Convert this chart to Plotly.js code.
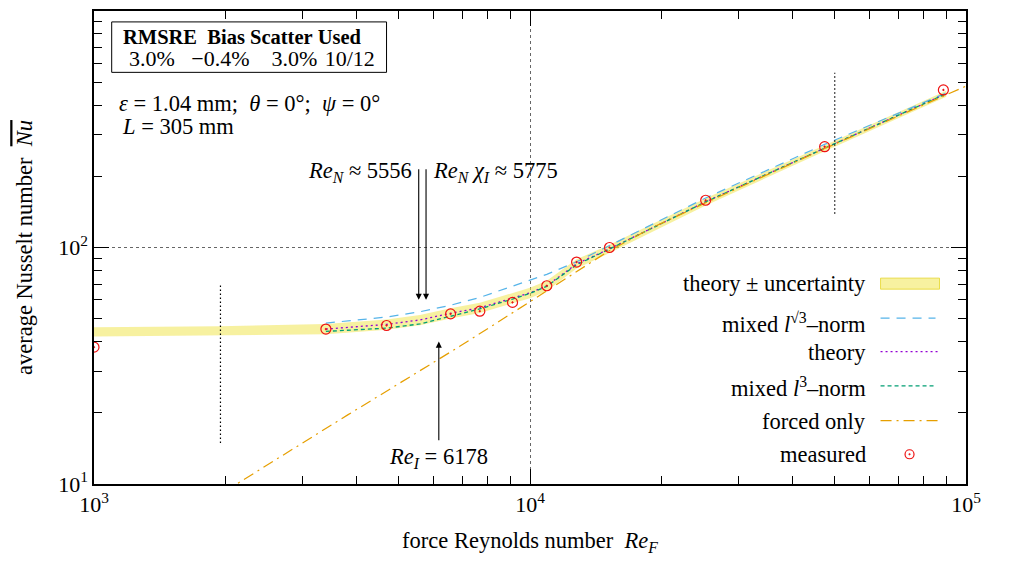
<!DOCTYPE html>
<html>
<head>
<meta charset="utf-8">
<script src="https://cdn.plot.ly/plotly-3.0.1.min.js"></script>
<style>
  html, body { margin: 0; padding: 0; background: #fff; }
  #chart { width: 1009px; height: 561px; }
</style>
</head>
<body>
<div id="chart"></div>
<script>
// Measured average Nusselt numbers
const reMeasured = [1000, 3403, 4688, 6574, 7672, 9118, 10927, 12790, 15218, 25290, 47400, 88740];
const nuMeasured = [37.9, 45.2, 46.8, 52.4, 53.8, 58.6, 68.9, 86.8, 100.0, 158.4, 266.8, 463.6];

// Theory with its relative uncertainty
const reTheory = [1000, 1945, 3403, 4688, 5591, 6574, 7672, 9118, 10000, 10927, 12790, 15218, 25290, 47400, 90100];
const nuTheory = [44.0, 44.4, 45.2, 47.3, 49.4, 52.7, 55.6, 61.1, 64.3, 68.9, 85.3, 98.7, 156.1, 263.0, 447.0];
const uncTheory = [0.045, 0.045, 0.05, 0.05, 0.05, 0.05, 0.05, 0.05, 0.05, 0.05, 0.045, 0.04, 0.035, 0.03, 0.03];

// Mixed-convection blends
const reMixed = [3403, 4688, 5591, 6574, 7672, 9118, 10000, 10927, 12790, 15218, 25290, 47400, 90100];
const nuMixedSqrt3 = [47.9, 50.8, 53.5, 57.0, 61.5, 68.5, 72.5, 77.0, 87.0, 102.0, 162.0, 273.0, 450.0];
const nuMixedL3 = [44.2, 45.6, 47.5, 51.3, 55.0, 60.5, 64.0, 68.5, 84.5, 98.5, 156.0, 263.0, 447.0];
// Theory line is drawn over the same span as the blends
const theoryLineStart = 3403;

// Forced convection only
const reForced = [1800, 2124, 3819, 6900, 10000, 12000, 15000, 19000, 25290, 47400, 100000, 110000];
const nuForced = [8.2, 10.0, 19.6, 38.2, 59.0, 73.5, 95.5, 121.0, 154.5, 262.0, 480.0, 520.0];

// Validity markers (vertical dotted segments)
const markerRe = [1950, 50000];
const markerNuLow = [14.9, 138.9];
const markerNuHigh = [70.2, 548.0];

// Characteristic Reynolds numbers
const reN = 5556, reNchi = 5775, reI = 6178;

// Fit statistics
const statHeader = ['RMSRE', 'Bias', 'Scatter', 'Used'];
const statValues = ['3.0%', '\u22120.4%', '3.0%', '10/12'];

const FONT = 'Liberation Serif, Times New Roman, serif';
const FS = 22.5;
const NBSP = '\u00A0';

const lg = Math.log10;

const traces = [];

// uncertainty band
const bandHi = nuTheory.map((v, i) => v * (1 + uncTheory[i]));
const bandLo = nuTheory.map((v, i) => v * (1 - uncTheory[i]));
traces.push({ x: reTheory, y: bandLo, mode: 'lines', line: { width: 0, color: 'rgba(0,0,0,0)' }, hoverinfo: 'skip', showlegend: false });
traces.push({ x: reTheory, y: bandHi, mode: 'lines', line: { width: 0, color: 'rgba(0,0,0,0)' }, fill: 'tonexty', fillcolor: 'rgba(240,228,66,0.5)', showlegend: false });

// blue mixed sqrt3
traces.push({ x: reMixed, y: nuMixedSqrt3, mode: 'lines', line: { color: '#56b4e9', width: 1.2, dash: '9px,7px' }, showlegend: false });
// theory line
const thX = [], thY = [];
reTheory.forEach((r, i) => { if (r >= theoryLineStart) { thX.push(r); thY.push(nuTheory[i]); } });
traces.push({ x: thX, y: thY, mode: 'lines', line: { color: '#9400d3', width: 1.3, dash: '2px,3px' }, showlegend: false });
// green mixed l3
traces.push({ x: reMixed, y: nuMixedL3, mode: 'lines', line: { color: '#009e73', width: 1.3, dash: '4px,3px' }, showlegend: false });
// forced only
traces.push({ x: reForced, y: nuForced, mode: 'lines', line: { color: '#e69f00', width: 1.2, dash: '11px,5px,2px,5px' }, showlegend: false });

// validity markers
markerRe.forEach((r, i) => {
  traces.push({ x: [r, r], y: [markerNuLow[i], markerNuHigh[i]], mode: 'lines', line: { color: '#000', width: 1.2, dash: '1.5px,2.5px' }, showlegend: false });
});

// measured
traces.push({ x: reMeasured, y: nuMeasured, mode: 'markers',
  marker: { symbol: 'circle-open-dot', size: 10, color: '#ee1111', line: { width: 1.2, color: '#ee1111' } }, showlegend: false });

// plot-area geometry in pixels (for key/paper placement)
const L = 94, R = 966.5, T = 11.4, B = 484;
const W = 1009, H = 561;
const px = x => (x - L) / (R - L);
const py = y => (B - y) / (B - T);

const annotations = [];
const shapes = [];

// Statistics box
shapes.push({ type: 'rect', xref: 'paper', yref: 'paper', x0: px(111.7), x1: px(386.7), y0: py(72.7), y1: py(22.3), line: { color: '#000', width: 1 }, fillcolor: '#fff' });
annotations.push({ xref: 'paper', yref: 'paper', x: px(121), y: py(37), xanchor: 'left', yanchor: 'middle', showarrow: false,
  text: '<b>' + statHeader[0] + NBSP + NBSP + statHeader.slice(1).join(NBSP) + '</b>', font: { family: FONT, size: 20.5, color: '#000' } });
annotations.push({ xref: 'paper', yref: 'paper', x: px(127), y: py(59), xanchor: 'left', yanchor: 'middle', showarrow: false,
  text: statValues[0] + NBSP + NBSP + NBSP + statValues[1] + NBSP + NBSP + NBSP + NBSP + statValues[2] + NBSP + '\u200A' + statValues[3], font: { family: FONT, size: 22, color: '#000' } });

annotations.push({ xref: 'paper', yref: 'paper', x: px(117), y: py(104), xanchor: 'left', yanchor: 'middle', showarrow: false,
  text: '<i>\u03b5</i> = 1.04 mm;' + NBSP + NBSP + '<i>\u03b8</i> = 0\u00b0;' + NBSP + NBSP + '<i>\u03c8</i> = 0\u00b0', font: { family: FONT, size: FS, color: '#000' } });
annotations.push({ xref: 'paper', yref: 'paper', x: px(120), y: py(127), xanchor: 'left', yanchor: 'middle', showarrow: false,
  text: '<i>L</i> = 305 mm', font: { family: FONT, size: FS, color: '#000' } });

// Characteristic Reynolds arrows
const arrowStyle = { showarrow: true, arrowhead: 2, arrowsize: 1.1, arrowwidth: 1.1, arrowcolor: '#000', text: '', axref: 'x', ayref: 'y', standoff: 0, startstandoff: 0 };
annotations.push(Object.assign({}, arrowStyle, { x: lg(reN), y: lg(60.1), ax: lg(reN), ay: lg(217.4) }));
annotations.push(Object.assign({}, arrowStyle, { x: lg(reNchi), y: lg(60.1), ax: lg(reNchi), ay: lg(217.4) }));
annotations.push(Object.assign({}, arrowStyle, { x: lg(reI), y: lg(40.0), ax: lg(reI), ay: lg(15.1) }));

annotations.push({ xref: 'x', yref: 'paper', x: lg(reN), xshift: -5, y: py(172), xanchor: 'right', yanchor: 'middle', showarrow: false,
  text: '<i>Re</i><sub><i>N</i></sub>' + NBSP + '\u2248 ' + reN, font: { family: FONT, size: FS, color: '#000' } });
annotations.push({ xref: 'x', yref: 'paper', x: lg(reNchi), xshift: 5, y: py(172), xanchor: 'left', yanchor: 'middle', showarrow: false,
  text: '<i>Re</i><sub><i>N</i></sub>' + NBSP + '<i>\u03c7</i><sub><i>I</i></sub>' + NBSP + '\u2248 ' + reNchi, font: { family: FONT, size: FS, color: '#000' } });
annotations.push({ xref: 'x', yref: 'paper', x: lg(reI), y: py(458), xanchor: 'center', yanchor: 'middle', showarrow: false,
  text: '<i>Re</i><sub><i>I</i></sub> = ' + reI, font: { family: FONT, size: FS, color: '#000' } });

// Key
const keyText = ['theory \u00b1 uncertainty', 'mixed <i>l</i><sup>\u221a3</sup>\u2013norm', 'theory', 'mixed <i>l</i><sup>3</sup>\u2013norm', 'forced only', 'measured'];
const keyY = [284, 323, 353, 387, 421.5, 455];
keyText.forEach((t, i) => {
  annotations.push({ xref: 'paper', yref: 'paper', x: px(868), y: py(keyY[i]), xanchor: 'right', yanchor: 'middle', showarrow: false,
    text: t, font: { family: FONT, size: FS, color: '#000' } });
});
const kx0 = px(881), kx1 = px(940);
shapes.push({ type: 'rect', xref: 'paper', yref: 'paper', x0: kx0, x1: kx1, y0: py(289.3), y1: py(278.3), fillcolor: 'rgba(240,228,66,0.5)', line: { color: 'rgba(232,218,60,0.9)', width: 1 } });
shapes.push({ type: 'line', xref: 'paper', yref: 'paper', x0: kx0, x1: px(936), y0: py(318.3), y1: py(318.3), line: { color: '#56b4e9', width: 1.2, dash: '9px,7px' } });
shapes.push({ type: 'line', xref: 'paper', yref: 'paper', x0: kx0, x1: kx1, y0: py(351.7), y1: py(351.7), line: { color: '#9400d3', width: 1.3, dash: '2px,3px' } });
shapes.push({ type: 'line', xref: 'paper', yref: 'paper', x0: kx0, x1: px(934), y0: py(386), y1: py(386), line: { color: '#009e73', width: 1.3, dash: '4px,3px' } });
shapes.push({ type: 'line', xref: 'paper', yref: 'paper', x0: kx0, x1: kx1, y0: py(420.7), y1: py(420.7), line: { color: '#e69f00', width: 1.2, dash: '11px,5px,2px,5px' } });
shapes.push({ type: 'circle', xref: 'paper', yref: 'paper', xsizemode: 'pixel', ysizemode: 'pixel', xanchor: px(910), yanchor: py(454.3), x0: -4.5, x1: 4.5, y0: -4.5, y1: 4.5, line: { color: '#ee1111', width: 1.2 } });
shapes.push({ type: 'circle', xref: 'paper', yref: 'paper', xsizemode: 'pixel', ysizemode: 'pixel', xanchor: px(910), yanchor: py(454.3), x0: -0.8, x1: 0.8, y0: -0.8, y1: 0.8, fillcolor: '#ee1111', line: { color: '#ee1111', width: 0.5 } });

const decadeTicksX = [1e3, 1e4, 1e5];
const decadeTicksY = [1e1, 1e2, 1e3];
const minorX = [2e3, 3e3, 4e3, 5e3, 6e3, 7e3, 8e3, 9e3, 2e4, 3e4, 4e4, 5e4, 6e4, 7e4, 8e4, 9e4];
const minorY = [20, 30, 40, 50, 60, 70, 80, 90, 200, 300, 400, 500, 600, 700, 800, 900];
const supLabel = v => '10<sup>' + Math.round(lg(v)) + '</sup>';

const axisCommon = {
  type: 'log', showline: true, linecolor: '#000', linewidth: 1.6, mirror: 'allticks',
  ticks: 'inside', ticklen: 15, tickwidth: 1, tickcolor: '#000',
  tickmode: 'array', showgrid: true, gridcolor: '#666', griddash: 'dot', gridwidth: 1,
  zeroline: false, tickfont: { family: FONT, size: 22, color: '#000' }
};

const layout = {
  width: W, height: H,
  margin: { l: L, r: W - R, t: T, b: H - B },
  paper_bgcolor: '#fff', plot_bgcolor: '#fff',
  showlegend: false,
  font: { family: FONT, size: FS, color: '#000' },
  xaxis: Object.assign({}, axisCommon, {
    range: [3, 5], tickvals: decadeTicksX, ticktext: decadeTicksX.map(supLabel),
    minor: { tickmode: 'array', tickvals: minorX, ticks: 'inside', ticklen: 8, tickcolor: '#000', tickwidth: 1, showgrid: false },
    title: { text: 'force Reynolds number' + NBSP + NBSP + '<i>Re</i><sub><i>F</i></sub>', font: { family: FONT, size: FS, color: '#000' }, standoff: 16 }
  }),
  yaxis: Object.assign({}, axisCommon, {
    range: [1, 3], tickvals: decadeTicksY, ticktext: decadeTicksY.map(supLabel),
    minor: { tickmode: 'array', tickvals: minorY, ticks: 'inside', ticklen: 8, tickcolor: '#000', tickwidth: 1, showgrid: false },
    title: { text: 'average Nusselt number' + NBSP + NBSP + '<span style="text-decoration:overline"><i>Nu</i></span>', font: { family: FONT, size: FS, color: '#000' }, standoff: 19 }
  }),
  annotations: annotations,
  shapes: shapes
};

Plotly.newPlot('chart', traces, layout, { staticPlot: true, displayModeBar: false });
</script>
</body>
</html>
